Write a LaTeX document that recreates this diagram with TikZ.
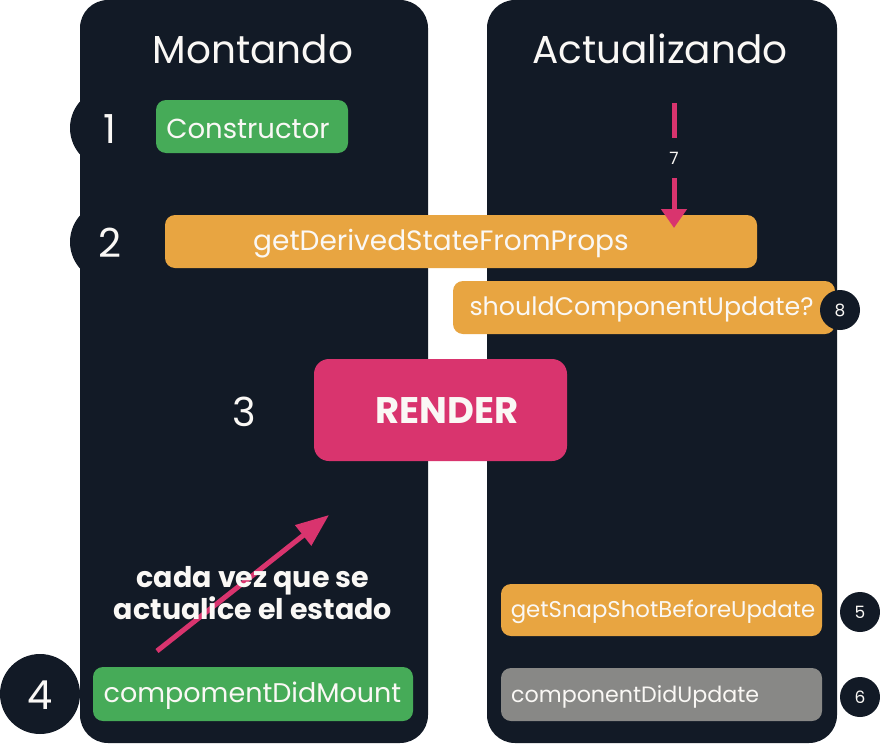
\documentclass[tikz,border=0pt]{standalone}
\usepackage{fontspec}
\setmainfont{Poppins}
\usetikzlibrary{arrows.meta}
\definecolor{panel}{HTML}{121A26}
\definecolor{pinkc}{HTML}{D9346E}
\definecolor{orangec}{HTML}{E8A541}
\definecolor{greenc}{HTML}{46AB58}
\definecolor{grayc}{HTML}{888886}
\definecolor{txt}{HTML}{FAF8F5}
\tikzset{
  box/.style={rectangle, rounded corners=10pt, inner sep=0pt, text=txt},
  greenbox/.style={box, fill=greenc},
  orangebox/.style={box, fill=orangec},
  graybox/.style={box, fill=grayc},
  bignum/.style={text=txt, font=\fontsize{40}{40}\selectfont},
  smallnum/.style={circle, fill=panel, minimum size=40pt, inner sep=0pt, text=txt, font=\fontsize{17}{17}\selectfont},
  pinkline/.style={draw=pinkc, line width=5pt},
}
\begin{document}
\begin{tikzpicture}[x=1pt,y=-1pt]
\useasboundingbox (0,0) rectangle (880,744);
\fill[white] (0,0) rectangle (880,744);
% panels
\fill[panel, rounded corners=28pt] (80,0) rectangle (428,743);
\fill[panel, rounded corners=28pt] (487,0) rectangle (837,743);
% circles behind numbers
\fill[panel] (110,128) circle (40);
\fill[panel] (110,242) circle (40);
\fill[panel] (40,694) circle (40);
% titles
\node[text=txt, font=\fontsize{39}{39}\selectfont] (tm) at (253,49) {Montando};
\node[text=txt, font=\fontsize{39}{39}\selectfont] (ta) at (660,49) {Actualizando};
% numbers
\node[bignum] (n1) at (110,129) {1};
\node[bignum] (n2) at (110,243) {2};
\node[bignum] (n3) at (244,412) {3};
\node[bignum] (n4) at (40,695) {4};
% boxes
\node[greenbox, minimum width=192pt, minimum height=53pt] (ctor) at (252,126.5) {};
\node[text=txt, font=\fontsize{27.5}{27.5}\selectfont] (ctort) at (248,128.5) {Constructor};
\node[orangebox, minimum width=592pt, minimum height=53pt] (gds) at (461,241.5) {};
\node[text=txt, font=\fontsize{28}{28}\selectfont] (gdst) at (441,243.5) {getDerivedStateFromProps};
\node[orangebox, minimum width=382pt, minimum height=53pt] (scu) at (644,307.5) {};
\node[text=txt, font=\fontsize{25.3}{25.3}\selectfont] (scut) at (641.5,309.5) {shouldComponentUpdate?};
\node[smallnum] (n8) at (840,310) {8};
\node[box, fill=pinkc, rounded corners=15pt, minimum width=253pt, minimum height=102pt] (render) at (440.5,410) {};
\node[text=txt, font=\bfseries\fontsize{37}{37}\selectfont] (rendert) at (447,411) {RENDER};
\node[greenbox, minimum width=320pt, minimum height=54pt] (cdm) at (253,694) {};
\node[text=txt, font=\fontsize{27}{27}\selectfont] (cdmt) at (252.5,696) {compomentDidMount};
\node[orangebox, minimum width=321pt, minimum height=52pt] (gsb) at (661.5,610) {};
\node[text=txt, font=\fontsize{22.8}{22.8}\selectfont] (gsbt) at (663,612) {getSnapShotBeforeUpdate};
\node[graybox, minimum width=321pt, minimum height=53pt] (cdu) at (661.5,694.5) {};
\node[text=txt, anchor=west, inner sep=0pt, font=\fontsize{22.2}{22.2}\selectfont] (cdut) at (511,696.5) {componentDidUpdate};
\node[smallnum] (n5) at (860,612) {5};
\node[smallnum] (n6) at (860,697) {6};
% arrow 7
\coordinate (a7top) at (674,103);
\node[text=txt, minimum height=40pt, inner sep=0pt, font=\fontsize{17}{17}\selectfont] (n7) at (674,158) {7};
\coordinate (a7end) at (674,228);
\draw[pinkline] (a7top) -- (n7.north);
\draw[pinkline, -{Triangle[length=19pt,width=25pt]}] (n7.south) -- (a7end);
% diagonal arrow
\coordinate (dstart) at (157,651);
\coordinate (dend) at (329,515);
\draw[pinkline, -{Triangle[length=33pt,width=25pt]}] (dstart) -- (dend);
% text (over the arrow)
\node[text=txt, align=center, font=\bfseries\fontsize{28.5}{32}\selectfont] (note) at (253,593) {cada vez que se\\actualice el estado};
\end{tikzpicture}
\end{document}
